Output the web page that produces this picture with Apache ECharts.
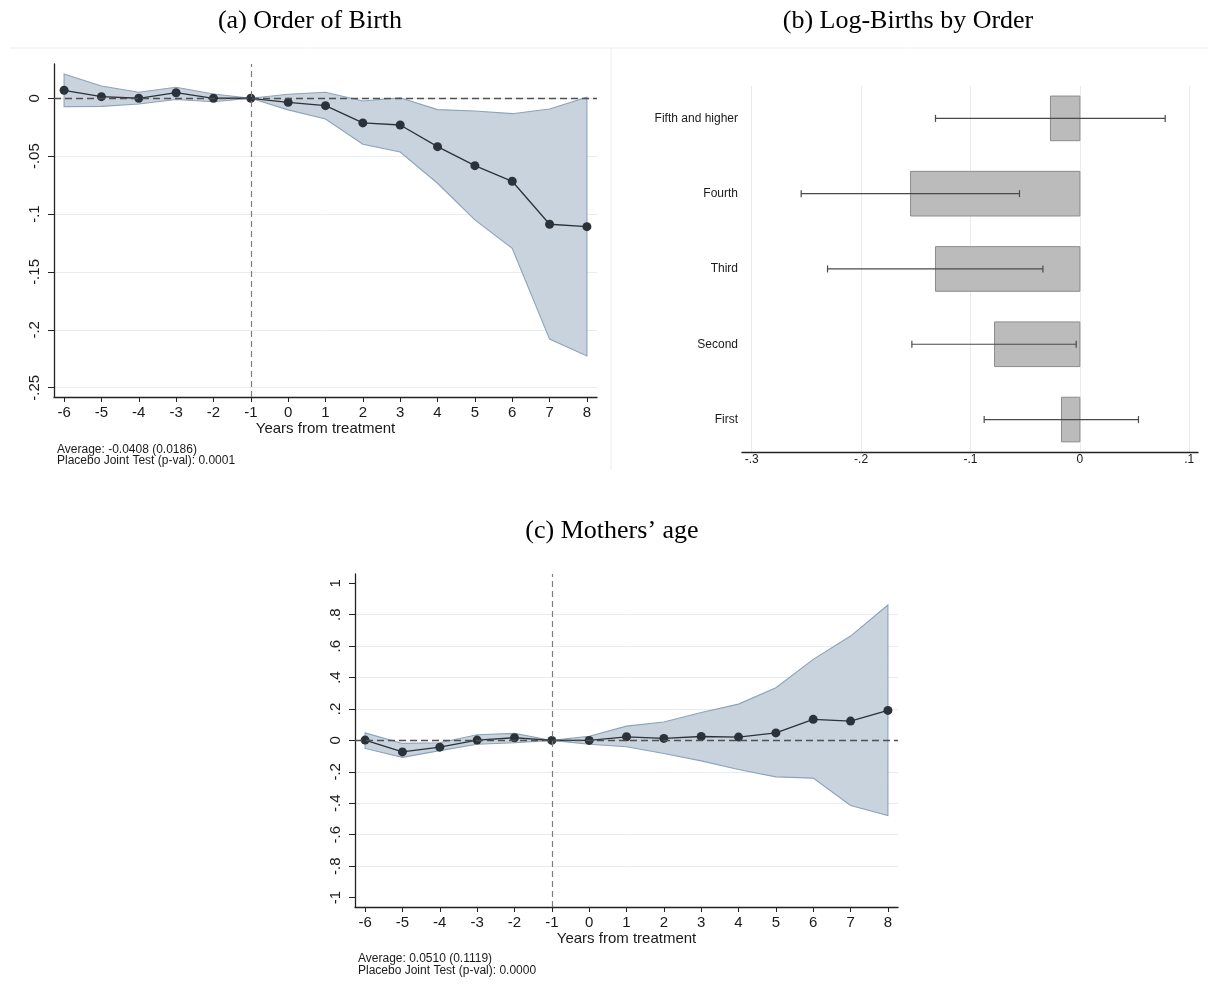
<!DOCTYPE html>
<html>
<head>
<meta charset="utf-8">
<script src="https://cdn.jsdelivr.net/npm/echarts@6/dist/echarts.min.js"></script>
<style>
  html, body { margin: 0; padding: 0; background: #ffffff; }
  #chart { width: 1208px; height: 992px; }
</style>
</head>
<body>
<div id="chart"></div>
<script>
// Event-study horizon (years relative to treatment)
const years = [-6, -5, -4, -3, -2, -1, 0, 1, 2, 3, 4, 5, 6, 7, 8];

// (a) Order of birth: point estimates and 95% bounds
const birthOrderCoef = [0.0069, 0.0014, 0.0000, 0.0048, 0.0000, 0, -0.0035, -0.0064, -0.0213, -0.0231, -0.0418, -0.0582, -0.0717, -0.1088, -0.1109];
const birthOrderHi   = [0.0210, 0.0106, 0.0052, 0.0095, 0.0037, 0, 0.0035, 0.0052, -0.0023, 0.0005, -0.0098, -0.0110, -0.0133, -0.0092, 0.0009];
const birthOrderLo   = [-0.0072, -0.0070, -0.0050, -0.0010, -0.0030, 0, -0.0100, -0.0179, -0.0397, -0.0464, -0.0734, -0.1050, -0.1296, -0.2080, -0.2225];
const birthOrderTicks = [-0.25, -0.2, -0.15, -0.1, -0.05, 0];
const birthOrderNotes = ['Average: -0.0408 (0.0186)', 'Placebo Joint Test (p-val): 0.0001'];

// (b) Log-births by order: estimates with confidence intervals
const orderNames = ['First', 'Second', 'Third', 'Fourth', 'Fifth and higher'];
const orderPos   = [1, 2, 3, 4, 5];
const orderCoef  = [-0.0168, -0.0780, -0.1320, -0.1548, -0.0269];
const orderLo    = [-0.0875, -0.1536, -0.2307, -0.2548, -0.1320];
const orderHi    = [0.0536, -0.0034, -0.0338, -0.0552, 0.0780];
const orderTicks = [-0.3, -0.2, -0.1, 0, 0.1];

// (c) Mothers' age: point estimates and 95% bounds
const ageCoef = [0.002, -0.073, -0.043, 0.002, 0.017, 0, 0, 0.023, 0.013, 0.025, 0.021, 0.048, 0.134, 0.123, 0.191];
const ageHi   = [0.048, -0.019, -0.015, 0.036, 0.045, 0, 0.027, 0.091, 0.117, 0.178, 0.231, 0.335, 0.516, 0.664, 0.862];
const ageLo   = [-0.051, -0.108, -0.065, -0.024, -0.015, 0, -0.024, -0.040, -0.083, -0.130, -0.185, -0.232, -0.240, -0.414, -0.478];
const ageTicks = [-1, -0.8, -0.6, -0.4, -0.2, 0, 0.2, 0.4, 0.6, 0.8, 1];
const ageGridLines = [-0.8, -0.6, -0.4, -0.2, 0.2, 0.4, 0.6, 0.8];
const ageNotes = ['Average: 0.0510 (0.1119)', 'Placebo Joint Test (p-val): 0.0000'];

const panelTitles = ['(a) Order of Birth', '(b) Log-Births by Order', '(c) Mothers\u2019 age'];
const xAxisName = 'Years from treatment';

// ---------------------------------------------------------------------------
const SANS = '"Liberation Sans", Arial, Helvetica, sans-serif';
const SERIF = '"Liberation Serif", "Times New Roman", Times, serif';
const INK = '#1a1a1a';
const GRID_COLOR = '#e6edf1';
const BAND_FILL = '#c8d3dd';
const BAND_EDGE = '#8ca3b9';
const MARK_COLOR = '#2b3239';
const BAR_THICKNESS = 0.593;   // in category units
const CAP_HALF = 3.5;          // px

// Stata-like number labels: drop the leading zero
function fmt(v) {
  let s = String(+(+v).toFixed(4));
  return s.replace(/^(-?)0\./, '$1.');
}

function eventXAxis(gridIndex, showName) {
  return {
    type: 'value', gridIndex: gridIndex, min: -6.27, max: 8.27,
    axisLine: { show: true, onZero: false, lineStyle: { color: '#222', width: 1.3 } },
    axisTick: { show: true, length: 5, customValues: years, lineStyle: { color: '#222', width: 1 } },
    axisLabel: { customValues: years, formatter: fmt, fontFamily: SANS, fontSize: 15, color: INK, margin: 8 },
    splitLine: { show: false },
    name: showName ? xAxisName : '', nameLocation: 'middle', nameGap: 24,
    nameTextStyle: { fontFamily: SANS, fontSize: 15, color: INK }
  };
}

function bandSeries(xi, yi, lo, hi) {
  return {
    type: 'custom', xAxisIndex: xi, yAxisIndex: yi, silent: true, z: 1,
    data: years.map((x, i) => [x, lo[i], hi[i]]),
    renderItem: function (params, api) {
      if (params.dataIndex !== 0) return null;
      const upper = years.map((x, i) => api.coord([x, hi[i]]));
      const lower = years.map((x, i) => api.coord([x, lo[i]])).reverse();
      return {
        type: 'polygon',
        shape: { points: upper.concat(lower) },
        style: { fill: BAND_FILL, stroke: BAND_EDGE, lineWidth: 1.1 }
      };
    }
  };
}

function coefSeries(xi, yi, coef) {
  return {
    type: 'line', xAxisIndex: xi, yAxisIndex: yi, z: 3, silent: true,
    data: years.map((x, i) => [x, coef[i]]),
    symbol: 'circle', symbolSize: 9, showSymbol: true,
    itemStyle: { color: MARK_COLOR },
    lineStyle: { color: MARK_COLOR, width: 1.3 },
    animation: false,
    markLine: {
      silent: true, symbol: ['none', 'none'], label: { show: false }, animation: false,
      data: [
        { xAxis: -1, lineStyle: { color: '#7d7d7d', type: [6, 4], width: 1.2 } },
        { yAxis: 0, lineStyle: { color: '#505050', type: [7, 4], width: 1.3 } }
      ]
    }
  };
}

function noteText(x, y, lines) {
  return lines.map((t, i) => ({
    type: 'text', x: x, y: y + i * 11.5,
    style: { text: t, fontFamily: SANS, fontSize: 12, fill: INK, textVerticalAlign: 'middle', textAlign: 'left' }
  }));
}

function titleText(cx, cy, t) {
  return {
    type: 'text', x: cx, y: cy,
    style: { text: t, fontFamily: SERIF, fontSize: 26, fill: '#000', textAlign: 'center', textVerticalAlign: 'middle' }
  };
}

const option = {
  animation: false,
  backgroundColor: '#ffffff',
  grid: [
    { left: 54, top: 64, width: 543, height: 333 },
    { left: 742, top: 86, width: 456, height: 366 },
    { left: 355, top: 574, width: 543, height: 333 }
  ],
  xAxis: [
    eventXAxis(0, true),
    {
      type: 'value', gridIndex: 1, min: -0.3089, max: 0.108,
      axisLine: { show: true, onZero: false, lineStyle: { color: '#222', width: 1.3 } },
      axisTick: { show: false, customValues: orderTicks },
      axisLabel: { customValues: orderTicks, formatter: fmt, fontFamily: SANS, fontSize: 12, color: INK, margin: 2 },
      splitLine: { show: true, lineStyle: { color: GRID_COLOR, width: 1 } }
    },
    eventXAxis(2, true)
  ],
  yAxis: [
    {
      type: 'value', gridIndex: 0, min: -0.258, max: 0.0296,
      axisLine: { show: true, onZero: false, lineStyle: { color: '#222', width: 1.3 } },
      axisTick: { show: true, length: 6, customValues: birthOrderTicks, lineStyle: { color: '#222', width: 1 } },
      axisLabel: { customValues: birthOrderTicks, formatter: fmt, rotate: 90, fontFamily: SANS, fontSize: 15, color: INK, margin: 12 },
      splitLine: { show: true, lineStyle: { color: GRID_COLOR, width: 1 } }
    },
    {
      type: 'value', gridIndex: 1, min: 0.569, max: 5.43,
      axisLine: { show: false },
      axisTick: { show: false, customValues: orderPos },
      axisLabel: {
        customValues: orderPos,
        formatter: v => orderNames[Math.round(v) - 1],
        fontFamily: SANS, fontSize: 12, color: INK, margin: 4
      },
      splitLine: { show: false }
    },
    {
      type: 'value', gridIndex: 2, min: -1.06, max: 1.059,
      axisLine: { show: true, onZero: false, lineStyle: { color: '#222', width: 1.3 } },
      axisTick: { show: true, length: 6, customValues: ageTicks, lineStyle: { color: '#222', width: 1 } },
      axisLabel: { customValues: ageTicks, formatter: fmt, rotate: 90, fontFamily: SANS, fontSize: 15, color: INK, margin: 12 },
      splitLine: { show: false }
    },
    {
      // interior grid lines for panel (c)
      type: 'value', gridIndex: 2, min: -1.06, max: 1.059,
      axisLine: { show: false },
      axisTick: { show: false, customValues: ageGridLines },
      axisLabel: { show: false },
      splitLine: { show: true, lineStyle: { color: GRID_COLOR, width: 1 } }
    }
  ],
  series: [
    bandSeries(0, 0, birthOrderLo, birthOrderHi),
    coefSeries(0, 0, birthOrderCoef),
    {
      type: 'custom', xAxisIndex: 1, yAxisIndex: 1, silent: true, z: 2,
      data: orderPos.map((p, i) => [orderCoef[i], p]),
      renderItem: function (params, api) {
        const v = api.value(0), p = api.value(1);
        const a = api.coord([0, p]);
        const b = api.coord([v, p]);
        const h = api.size([0, BAR_THICKNESS])[1];
        return {
          type: 'rect',
          shape: { x: Math.min(a[0], b[0]), y: a[1] - h / 2, width: Math.abs(b[0] - a[0]), height: h },
          style: { fill: '#bbbbbb', stroke: '#8c8c8c', lineWidth: 1 }
        };
      }
    },
    {
      type: 'custom', xAxisIndex: 1, yAxisIndex: 1, silent: true, z: 3,
      data: orderPos.map((p, i) => [orderLo[i], orderHi[i], p]),
      renderItem: function (params, api) {
        const p = api.value(2);
        const l = api.coord([api.value(0), p]);
        const r = api.coord([api.value(1), p]);
        const st = { stroke: '#4a4a4a', lineWidth: 1.2 };
        return {
          type: 'group',
          children: [
            { type: 'line', shape: { x1: l[0], y1: l[1], x2: r[0], y2: r[1] }, style: st },
            { type: 'line', shape: { x1: l[0], y1: l[1] - CAP_HALF, x2: l[0], y2: l[1] + CAP_HALF }, style: st },
            { type: 'line', shape: { x1: r[0], y1: r[1] - CAP_HALF, x2: r[0], y2: r[1] + CAP_HALF }, style: st }
          ]
        };
      }
    },
    bandSeries(2, 2, ageLo, ageHi),
    coefSeries(2, 2, ageCoef)
  ],
  graphic: [
    { type: 'line', silent: true, shape: { x1: 10, y1: 48, x2: 1208, y2: 48 }, style: { stroke: '#e9eef1', lineWidth: 1 } },
    { type: 'line', silent: true, shape: { x1: 611, y1: 48, x2: 611, y2: 470 }, style: { stroke: '#e9eef1', lineWidth: 1 } },
    titleText(310, 21, panelTitles[0]),
    titleText(908, 21, panelTitles[1]),
    titleText(612, 531, panelTitles[2])
  ].concat(noteText(57, 449.5, birthOrderNotes), noteText(358, 959, ageNotes))
};

const chart = echarts.init(document.getElementById('chart'), null, { renderer: 'canvas' });
chart.setOption(option);
</script>
</body>
</html>
